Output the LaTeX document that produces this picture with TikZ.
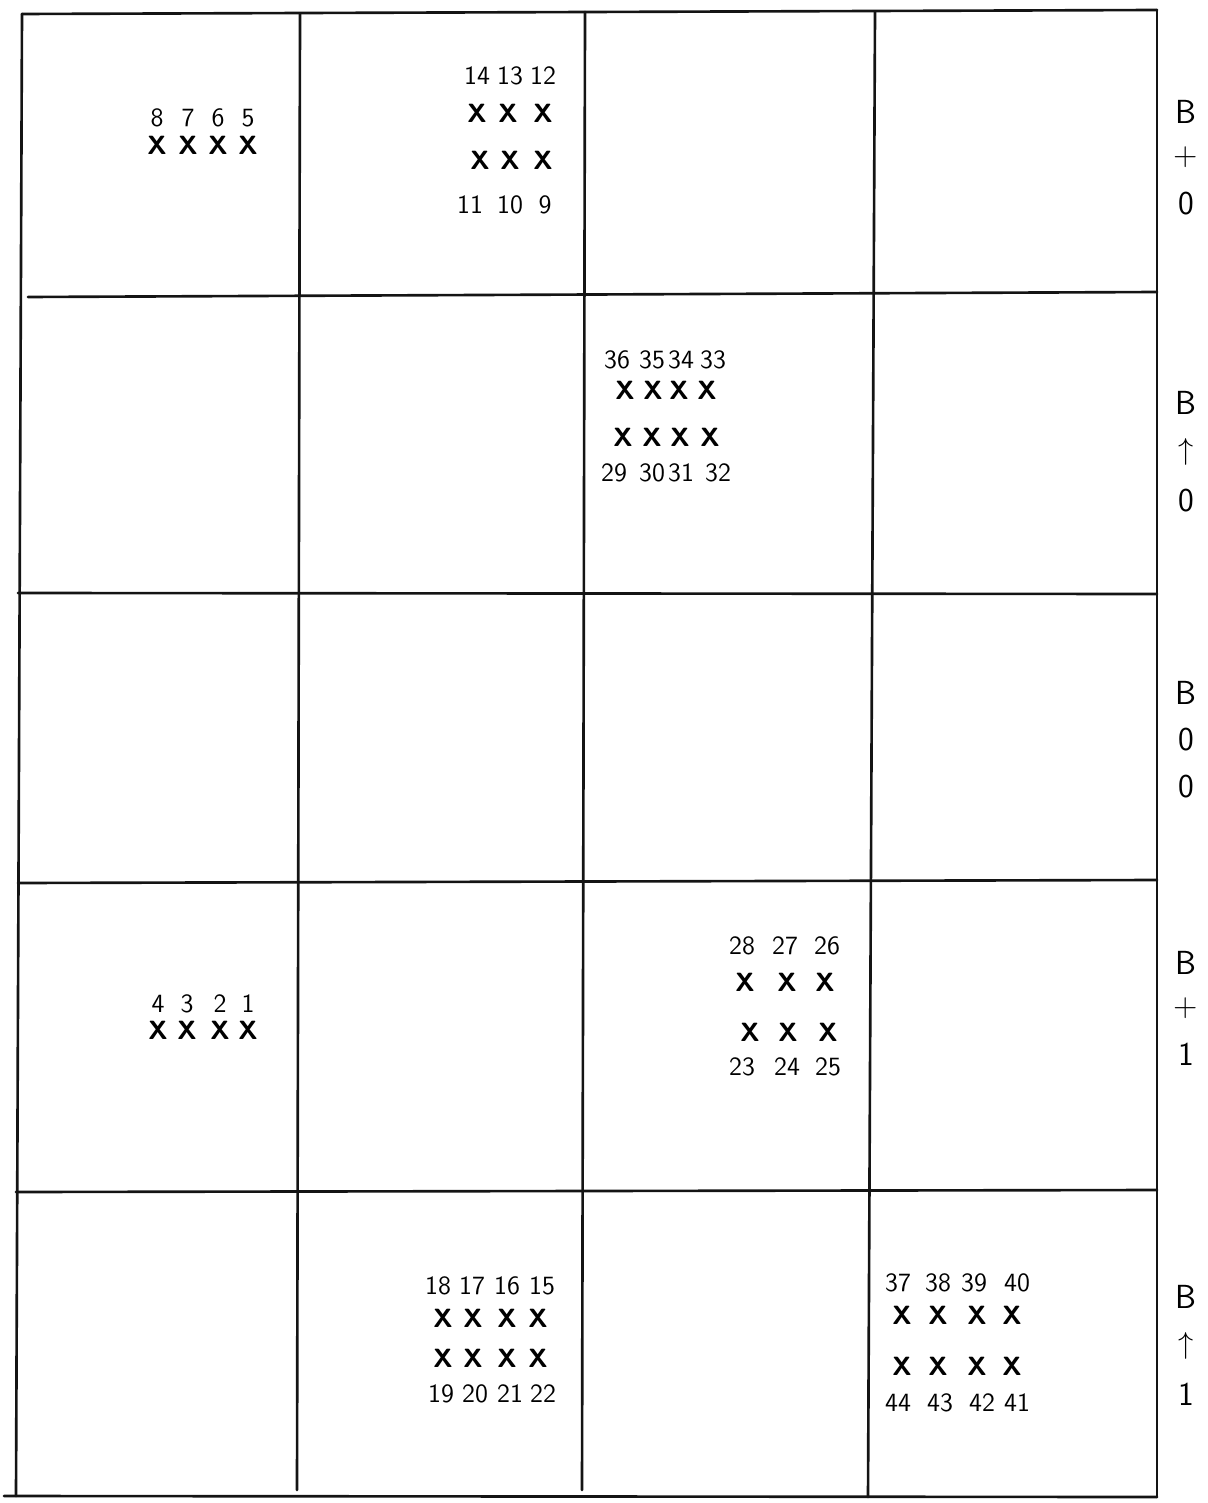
\documentclass[tikz,border=0pt]{standalone}
\usepackage{tikz}
\usetikzlibrary{positioning}
\definecolor{gridInk}{RGB}{20,20,20}
\tikzset{
    sheet/.style={line cap=round, line join=round, x=0.02cm, y=-0.02cm},
    gridline/.style={draw=gridInk, line width=1.5pt},
    num/.style={font=\sffamily\fontsize{15}{17}\selectfont, inner sep=0pt},
    cross/.style={font=\sffamily\bfseries\fontsize{15}{17}\selectfont, inner sep=0pt},
    rowlabel/.style={font=\sffamily\fontsize{19}{22}\selectfont, inner sep=0pt},
}

\begin{document}
\begin{tikzpicture}[sheet]
\useasboundingbox (0,0) rectangle (1207,1503);

% ─── Grille ─────────────────────────────────────────────────────────────
\draw[gridline] (22,14) -- (1157,10);
\draw[gridline] (28,297) -- (1157,292);
\draw[gridline] (18,593) -- (1157,594);
\draw[gridline] (18,883) -- (1157,880);
\draw[gridline] (16,1192) -- (1157,1190);
\draw[gridline] (4,1496) -- (1157,1497);
\draw[gridline] (22,14) -- (16,1496);
\draw[gridline] (300,14) -- (297,1490);
\draw[gridline] (585,12) -- (582,1490);
\draw[gridline] (875,12) -- (868,1497);
\draw[gridline] (1157,10) -- (1157,1497);

% ─── Étiquettes de rangées ──────────────────────────────────────────────
\foreach \r/\y/\a/\b in {a/112/+/0, b/403/$\uparrow$/0, c/693/0/0, d/963/+/1, e/1297/$\uparrow$/1}{
    \node[rowlabel] (lb\r) at (1186,\y) {B};
    \node[rowlabel, below=13pt of lb\r] (lm\r) {\a};
    \node[rowlabel, below=13pt of lm\r] (ln\r) {\b};
}

% ─── Case (1,1) ─────────────────────────────────────────────────────────
\foreach \n/\x in {8/157, 7/188, 6/218, 5/248}{
    \node[num] (n\n) at (\x,118) {\n};
    \node[cross] (x\n) at (\x,145) {X};
}

% ─── Case (1,2) ─────────────────────────────────────────────────────────
\foreach \n/\x/\c in {14/477/477, 13/510/508, 12/543/543}{
    \node[num] (n\n) at (\x,76) {\n};
    \node[cross] (x\n) at (\c,113) {X};
}
\foreach \n/\x/\c in {11/470/480, 10/510/510, 9/545/543}{
    \node[cross] (x\n) at (\c,160) {X};
    \node[num] (n\n) at (\x,205) {\n};
}

% ─── Case (2,3) ─────────────────────────────────────────────────────────
\foreach \n/\x/\c in {36/617/625, 35/652/653, 34/681/679, 33/713/707}{
    \node[num] (n\n) at (\x,360) {\n};
    \node[cross] (x\n) at (\c,390) {X};
}
\foreach \n/\x/\c in {29/614/623, 30/652/652, 31/681/680, 32/718/710}{
    \node[cross] (x\n) at (\c,437) {X};
    \node[num] (n\n) at (\x,473) {\n};
}

% ─── Case (4,1) ─────────────────────────────────────────────────────────
\foreach \n/\x in {4/158, 3/187, 2/220, 1/248}{
    \node[num] (n\n) at (\x,1004) {\n};
    \node[cross] (x\n) at (\x,1030) {X};
}

% ─── Case (4,3) ─────────────────────────────────────────────────────────
\foreach \n/\x/\c in {28/742/745, 27/785/787, 26/827/825}{
    \node[num] (n\n) at (\x,946) {\n};
    \node[cross] (x\n) at (\c,982) {X};
}
\foreach \n/\x/\c in {23/742/750, 24/787/788, 25/828/828}{
    \node[cross] (x\n) at (\c,1032) {X};
    \node[num] (n\n) at (\x,1067) {\n};
}

% ─── Case (5,2) ─────────────────────────────────────────────────────────
\foreach \n/\x/\c in {18/438/443, 17/472/473, 16/507/507, 15/542/538}{
    \node[num] (n\n) at (\x,1286) {\n};
    \node[cross] (x\n) at (\c,1318) {X};
}
\foreach \n/\x/\c in {19/441/443, 20/475/473, 21/510/507, 22/543/538}{
    \node[cross] (x\n) at (\c,1358) {X};
    \node[num] (n\n) at (\x,1394) {\n};
}

% ─── Case (5,4) ─────────────────────────────────────────────────────────
\foreach \n/\x/\c in {37/898/902, 38/938/938, 39/974/977, 40/1017/1012}{
    \node[num] (n\n) at (\x,1283) {\n};
    \node[cross] (x\n) at (\c,1315) {X};
}
\foreach \n/\x/\c in {44/898/902, 43/940/938, 42/982/977, 41/1017/1012}{
    \node[cross] (x\n) at (\c,1366) {X};
    \node[num] (n\n) at (\x,1403) {\n};
}

\end{tikzpicture}
\end{document}
